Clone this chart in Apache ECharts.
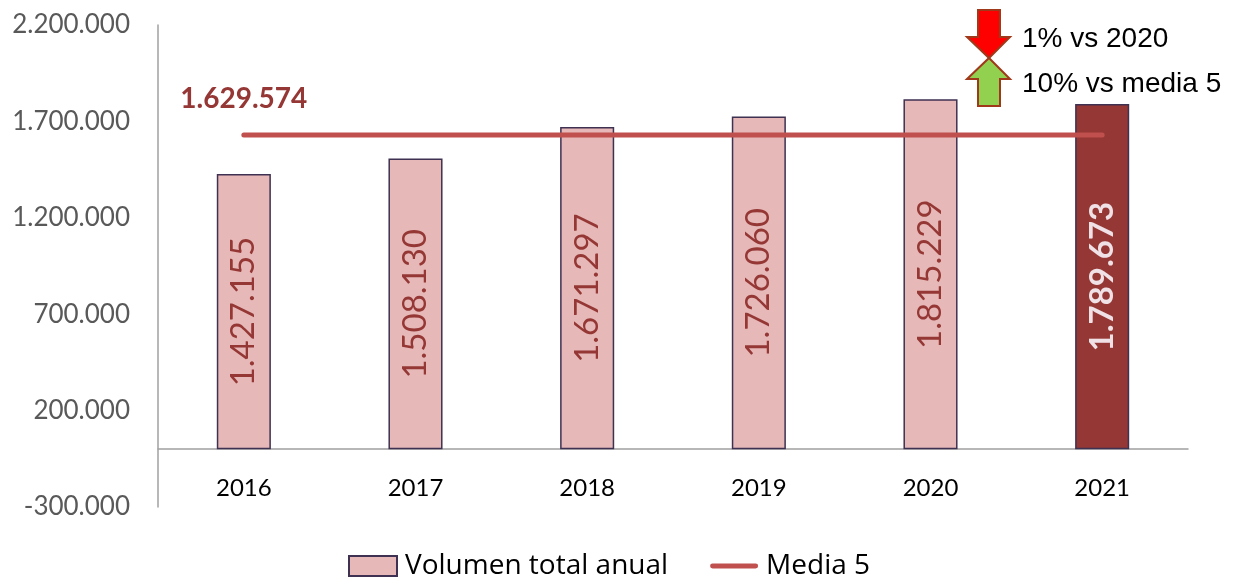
<!DOCTYPE html>
<html><head><meta charset="utf-8">
<script src="https://cdn.jsdelivr.net/npm/echarts@6/dist/echarts.min.js"></script>
<style>html,body{margin:0;padding:0;background:#fff}#c{width:1235px;height:577px}</style>
</head><body><div id="c"></div>
<script>
const categories = ['2016','2017','2018','2019','2020','2021'];
const volumen = [1427155, 1508130, 1671297, 1726060, 1815229, 1789673];
const media5 = [1629574, 1629574, 1629574, 1629574, 1629574, 1629574];
const yTicks = [-300000, 200000, 700000, 1200000, 1700000, 2200000];
const notes = ['1% vs 2020', '10% vs media 5'];

const fmt = v => {
  const s = Math.abs(Math.round(v)).toString().replace(/\B(?=(\d{3})+(?!\d))/g, '.');
  return (v < 0 ? '-' : '') + s;
};
const FONT = 'Lato';
const Y_MIN = -300000, Y_MAX = 2200000;
const GRID_TOP = 25, GRID_BOTTOM = 70, H = 577;
const plotH = H - GRID_TOP - GRID_BOTTOM;
const zeroOffset = plotH * (0 - Y_MIN) / (Y_MAX - Y_MIN);

const chart = echarts.init(document.getElementById('c'), null, {renderer: 'canvas'});
const barData = volumen.map((v, i) => i === volumen.length - 1 ? {
  value: v,
  itemStyle: {color: '#953735'},
  label: {color: '#EFE1E6', fontWeight: 'bold'}
} : v);

chart.setOption({
  animation: false,
  grid: {left: 158, right: 47, top: GRID_TOP, bottom: GRID_BOTTOM, containLabel: false},
  legend: {
    bottom: -3, left: 348, itemWidth: 48, itemHeight: 20, itemGap: 42, padding: 0,
    textStyle: {fontFamily: 'Open Sans', fontSize: 28, color: '#000', padding: [0, 0, 0, 3]},
    data: [
      {name: 'Volumen total anual', icon: 'rect'},
      {name: 'Media 5', icon: 'path://M2,0 L46,0 A2.5,2.5 0 0 1 46,5 L2,5 A2.5,2.5 0 0 1 2,0 Z'}
    ]
  },
  xAxis: {
    type: 'category', data: categories,
    offset: -zeroOffset,
    axisLine: {onZero: false, lineStyle: {color: '#A0A0A0', width: 1.5}},
    axisTick: {show: false},
    axisLabel: {fontFamily: FONT, fontSize: 24, color: '#000', margin: 27}
  },
  yAxis: {
    type: 'value', min: Y_MIN, max: Y_MAX,
    axisLine: {show: true, lineStyle: {color: '#A0A0A0', width: 1.5}},
    axisTick: {show: false},
    splitLine: {show: false},
    axisLabel: {
      customValues: yTicks, formatter: v => fmt(v),
      fontFamily: FONT, fontSize: 26, color: '#595959', margin: 28
    }
  },
  series: [
    {
      name: 'Volumen total anual', type: 'bar', data: barData, barWidth: '31.5%',
      itemStyle: {color: '#E6B9B8', borderColor: '#3F3151', borderWidth: 1.5},
      label: {
        show: true, position: 'inside', rotate: 90, formatter: p => fmt(p.value),
        fontFamily: FONT, fontSize: 33, color: '#953735'
      },
      z: 2
    },
    {
      name: 'Media 5', type: 'line', data: media5,
      symbol: 'circle', symbolSize: 0.1, showSymbol: true,
      lineStyle: {color: '#C0504D', width: 5, cap: 'round'},
      itemStyle: {color: '#C0504D'},
      label: {
        show: true, position: 'top', distance: 22,
        formatter: p => p.dataIndex === 0 ? fmt(p.value) : '',
        fontFamily: FONT, fontSize: 28, fontWeight: 'bold', color: '#953735'
      },
      z: 3
    }
  ],
  graphic: [
    {type: 'polygon', shape: {points: [[978,10],[1000,10],[1000,37],[1010,37],[989,58],[967,37],[978,37]]},
     style: {fill: '#FF0000', stroke: '#A0381A', lineWidth: 2}},
    {type: 'polygon', shape: {points: [[989,58],[1010,79],[1000,79],[1000,106],[978,106],[978,79],[967,79]]},
     style: {fill: '#92D050', stroke: '#A0381A', lineWidth: 2}},
    {type: 'text', left: 1022, top: 25, style: {text: notes[0], font: '28px "Liberation Sans"', fill: '#000'}},
    {type: 'text', left: 1022, top: 70, style: {text: notes[1], font: '28px "Liberation Sans"', fill: '#000'}}
  ]
});
</script></body></html>
